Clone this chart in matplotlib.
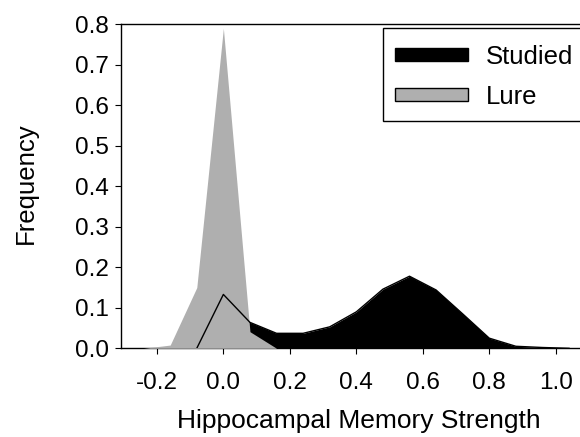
import matplotlib
matplotlib.use("Agg")
import matplotlib.pyplot as plt
from matplotlib.patches import Patch, Rectangle

plt.rcParams['font.family'] = ['Liberation Sans', 'DejaVu Sans']

x_studied = [-0.08, 0.0, 0.08, 0.16, 0.24, 0.32, 0.40, 0.48, 0.56, 0.64, 0.72, 0.80, 0.88, 0.96, 1.04]
studied = [0.0, 0.133, 0.064, 0.037, 0.037, 0.053, 0.09, 0.146, 0.178, 0.144, 0.085, 0.025, 0.005, 0.002, 0.0]
x_lure = [-0.24, -0.16, -0.08, 0.0, 0.08, 0.16]
lure = [0.0, 0.008, 0.15, 0.79, 0.041, 0.0]

xticks = [-0.2, 0.0, 0.2, 0.4, 0.6, 0.8, 1.0]
yticks = [0.0, 0.1, 0.2, 0.3, 0.4, 0.5, 0.6, 0.7, 0.8]

GRAY = '#afafaf'
W, H = 580, 437
L, R, T, B = 121, 580, 24.3, 348.3
fig = plt.figure(figsize=(5.8, 4.37), dpi=100)
ax = fig.add_axes([L/W, 1-B/H, (R-L)/W, (B-T)/H])

ax.fill_between(x_studied, studied, 0, color='black', linewidth=0, zorder=2)
ax.fill_between(x_lure, lure, 0, color=GRAY, linewidth=0, zorder=3)
ax.plot(x_studied, studied, color='black', linewidth=1.0, zorder=4)

ax.set_xlim(-0.308, 1.073)
ax.set_ylim(0, 0.8)
ax.set_xticks(xticks)
ax.set_xticklabels([f"{v:.1f}" for v in xticks])
ax.set_yticks(yticks)
ax.set_yticklabels([f"{v:.1f}" for v in yticks])
ax.tick_params(direction='out', length=4, width=0.8, labelsize=17.5)
ax.tick_params(axis='x', pad=13)
ax.tick_params(axis='y', pad=5)
ax.spines['right'].set_visible(False)
for s in ['left', 'bottom', 'top']:
    ax.spines[s].set_linewidth(1.0)

ax.set_ylabel('Frequency', fontsize=18.5)
ax.yaxis.set_label_coords((38-L)/(R-L), (B-183)/(B-T))
ax.set_xlabel('Hippocampal Memory Strength', fontsize=19)
ax.xaxis.set_label_coords((358.5-L)/(R-L), (B-409)/(B-T))

# legend frame (extends past the right edge, as in the reference)
frame = Rectangle((382.7/W, 1-120.7/H), (610-382.7)/W, (120.7-28.3)/H,
                  transform=fig.transFigure, facecolor='white', edgecolor='black',
                  linewidth=1.0, zorder=6, clip_on=False)
fig.add_artist(frame)

handles = [Patch(facecolor='black', edgecolor='black', label='Studied'),
           Patch(facecolor=GRAY, edgecolor='black', linewidth=1.0, label='Lure')]
leg = fig.legend(handles=handles, loc='upper left',
                 bbox_to_anchor=(395/W, 1-45/H),
                 fontsize=18.5, frameon=False,
                 handlelength=2.83, handleheight=0.42, handletextpad=0.71, borderpad=0,
                 labelspacing=0.62, borderaxespad=0)
leg.set_zorder(7)

fig.savefig('out.png', dpi=100)
